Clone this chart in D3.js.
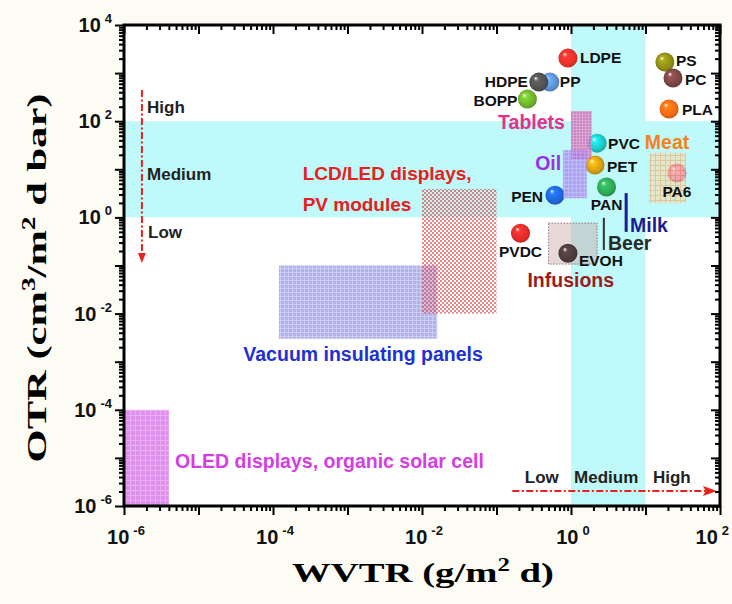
<!DOCTYPE html>
<html>
<head>
<meta charset="utf-8">
<script src="https://cdn.jsdelivr.net/npm/d3@7"></script>
<style>
  html, body { margin: 0; padding: 0; background: #fcfcf5; }
  svg { display: block; }
  text { font-family: "Liberation Sans", Arial, sans-serif; font-weight: bold; }
</style>
</head>
<body>
<svg id="chart" width="732" height="604"></svg>
<script>
// polymers (drawn in this order, PP sits behind HDPE)
const polymers = ["LDPE", "PP", "HDPE", "BOPP", "PS", "PC", "PLA", "PVC", "PET", "PAN", "PEN", "PA6", "PVDC", "EVOH"];
const polyWVTR = [0.91, 0.52, 0.37, 0.26, 18.2, 23.4, 20.7, 2.24, 2.1, 3.0, 0.61, 26.4, 0.21, 0.91];
const polyOTR = [2050, 650, 650, 288, 1700, 794, 180, 35, 12.3, 4.3, 2.9, 8.4, 0.47, 0.18];

// application regions
const regions = ["OLED", "Vacuum", "LCD", "Infusions", "Tablets", "Oil", "Meat"];
const regionX0 = [1e-6, 1.2e-4, 0.01, 0.5, 1.0, 0.78, 11.2];
const regionX1 = [4e-6, 0.016, 0.1, 2.24, 1.9, 1.63, 35];
const regionY0 = [1e-6, 0.003, 0.01, 0.107, 16.3, 2.5, 2];
const regionY1 = [1e-4, 0.1, 3.9, 0.76, 163, 25, 22];

// vertical range bars
const bars = ["Milk", "Beer"];
const barX = [5.5, 2.76];
const barY0 = [0.5, 0.21];
const barY1 = [3.2, 0.98];

// medium barrier bands
const otrMedium = [1, 100];
const wvtrMedium = [1, 10];

// annotations
const notes = ["High", "Medium", "Low", "LCD/LED displays,", "PV modules", "Vacuum insulating panels",
  "OLED displays, organic solar cell", "Tablets", "Oil", "Meat", "Milk", "Beer", "Infusions",
  "Low", "Medium", "High"];
const noteX = [2.04e-6, 2.04e-6, 2.1e-6, 2.5e-4, 2.5e-4, 4.0e-5, 4.84e-6, 0.105, 0.33, 9.8, 6.2, 3.14, 0.26, 0.24, 1.1, 12.6];
const noteY = [148, 6.0, 0.37, 6.0, 1.35, 1.03e-3, 6.2e-6, 69, 9.7, 26.5, 0.5, 0.21, 0.036, 3.0e-6, 3.0e-6, 3.0e-6];

// scale arrows
const otrArrowX = [1.74e-6, 1.74e-6];
const otrArrowY = [446, 0.144];
const wvtrArrowX = [0.163, 73];
const wvtrArrowY = [2.05e-6, 2.05e-6];

// tick labels (exponents of 10)
const xTickExp = [-6, -4, -2, 0, 2];
const yTickExp = [-6, -4, -2, 0, 2, 4];

// ---- styles ----
const ballColor = {
  LDPE: "#e8302a", PP: "#5b90d4", HDPE: "#505050", BOPP: "#6cb02c", PS: "#8c8c14", PC: "#7a4444",
  PLA: "#f26a12", PVC: "#1ec4c4", PET: "#d49c12", PAN: "#2ea454", PEN: "#1e64d8", PA6: "#c8509a",
  PVDC: "#e22a2a", EVOH: "#4c3a3a"
};
const labelPlace = {
  LDPE: [12, 5, "start"], PP: [10, 5, "start"], HDPE: [-11, 5, "end"], BOPP: [-10, 7, "end"],
  PS: [11, 4, "start"], PC: [12, 7, "start"], PLA: [13, 6, "start"], PVC: [11, 6, "start"],
  PET: [12, 7, "start"], PAN: [0, 23, "middle"], PEN: [-12, 7, "end"], PA6: [0, 24, "middle"],
  PVDC: [0, 24, "middle"], EVOH: [11, 13, "start"]
};
const noteColor = ["#222", "#222", "#222", "#e8201c", "#e8201c", "#2030d8", "#d43ee4", "#e6308c",
  "#9a2ee6", "#f5821e", "#1c1c96", "#2a2a2a", "#9c1c1c", "#222", "#222", "#222"];
const noteSize = [17, 17, 17, 19, 19, 19.5, 19.5, 19.5, 19.5, 19.5, 19.5, 19.5, 19.5, 17, 17, 17];

const svg = d3.select("#chart");
const x = d3.scaleLog().domain([1e-6, 1e2]).range([124, 720]);
const y = d3.scaleLog().domain([1e-6, 1e4]).range([506, 25]);
const [xl, xr] = x.range();
const [yb, yt] = y.range();

const defs = svg.append("defs");

// balls
polymers.forEach((p, i) => {
  const c = d3.color(ballColor[p]);
  const g = defs.append("radialGradient").attr("id", "ball" + i)
    .attr("cx", "50%").attr("cy", "50%").attr("r", "55%").attr("fx", "32%").attr("fy", "28%");
  g.append("stop").attr("offset", "0%").attr("stop-color", "#ffffff");
  g.append("stop").attr("offset", "22%").attr("stop-color", c.brighter(0.6));
  g.append("stop").attr("offset", "75%").attr("stop-color", c);
  g.append("stop").attr("offset", "100%").attr("stop-color", c.darker(0.7));
});

// fill patterns
function gridPattern(id, size, bg, line, lw) {
  const p = defs.append("pattern").attr("id", id).attr("patternUnits", "userSpaceOnUse")
    .attr("width", size).attr("height", size);
  p.append("rect").attr("width", size).attr("height", size).attr("fill", bg);
  p.append("path").attr("d", `M0,0.5H${size}M0.5,0V${size}`).attr("stroke", line).attr("stroke-width", lw);
}
gridPattern("pOLED", 5, "#de90ec", "#e9aef3", 1);
gridPattern("pVacuum", 4, "#aaaae8", "#c8c8f2", 1);
gridPattern("pTablets", 3, "#d062b0", "#e090c8", 1);
gridPattern("pOil", 4, "#a47cf0", "#bca0f4", 1);
gridPattern("pMeat", 5, "#f8dcb0", "#eeaa66", 1);
const chk = defs.append("pattern").attr("id", "pLCD").attr("patternUnits", "userSpaceOnUse")
  .attr("width", 4).attr("height", 4);
chk.append("rect").attr("width", 2).attr("height", 2).attr("fill", "#e05656");
chk.append("rect").attr("x", 2).attr("y", 2).attr("width", 2).attr("height", 2).attr("fill", "#e05656");

const regionFill = {
  OLED: "url(#pOLED)", Vacuum: "url(#pVacuum)", LCD: "url(#pLCD)", Infusions: "#c9a6a6",
  Tablets: "url(#pTablets)", Oil: "url(#pOil)", Meat: "url(#pMeat)"
};
const regionOpacity = { OLED: 1, Vacuum: 0.9, LCD: 0.72, Infusions: 0.45, Tablets: 0.78, Oil: 0.7, Meat: 0.62 };

// markers
defs.append("marker").attr("id", "arrowDown").attr("markerUnits", "userSpaceOnUse")
  .attr("viewBox", "0 0 10 10").attr("refX", 5).attr("refY", 5)
  .attr("markerWidth", 10).attr("markerHeight", 10).attr("orient", "auto")
  .append("path").attr("d", "M0,1 L10,5 L0,9 Z").attr("fill", "#e8201c");
defs.append("marker").attr("id", "arrowRight").attr("markerUnits", "userSpaceOnUse")
  .attr("viewBox", "0 0 14 10").attr("refX", 7).attr("refY", 5)
  .attr("markerWidth", 14).attr("markerHeight", 10).attr("orient", "auto")
  .append("path").attr("d", "M0,0 L14,5 L0,10 L3,5 Z").attr("fill", "#e8201c");

// plot background and medium bands
svg.append("rect").attr("x", xl).attr("y", yt).attr("width", xr - xl).attr("height", yb - yt).attr("fill", "#ffffff");
svg.append("rect").attr("x", xl).attr("y", y(otrMedium[1])).attr("width", xr - xl)
  .attr("height", y(otrMedium[0]) - y(otrMedium[1])).attr("fill", "#bff9f9");
svg.append("rect").attr("x", x(wvtrMedium[0])).attr("y", yt).attr("width", x(wvtrMedium[1]) - x(wvtrMedium[0]))
  .attr("height", yb - yt).attr("fill", "#bff9f9");

// regions behind balls
const behind = ["OLED", "Vacuum", "LCD", "Infusions"];
const front = ["Tablets", "Oil", "Meat"];
function drawRegions(list) {
  regions.forEach((r, i) => {
    if (!list.includes(r)) return;
    const rect = svg.append("rect")
      .attr("x", x(regionX0[i])).attr("y", y(regionY1[i]))
      .attr("width", x(regionX1[i]) - x(regionX0[i])).attr("height", y(regionY0[i]) - y(regionY1[i]))
      .attr("fill", regionFill[r]).attr("fill-opacity", regionOpacity[r]);
    if (r === "Infusions") rect.attr("stroke", "#8a7a7a").attr("stroke-width", 1).attr("stroke-dasharray", "1.5,1.5");
  });
}
drawRegions(behind);

// balls
polymers.forEach((p, i) => {
  svg.append("circle").attr("cx", x(polyWVTR[i])).attr("cy", y(polyOTR[i])).attr("r", 9.5)
    .attr("fill", `url(#ball${i})`);
});
drawRegions(front);

// polymer labels
polymers.forEach((p, i) => {
  const [dx, dy, anchor] = labelPlace[p];
  svg.append("text").attr("x", x(polyWVTR[i]) + dx).attr("y", y(polyOTR[i]) + dy)
    .attr("text-anchor", anchor).attr("font-size", 15.5).attr("fill", "#111").text(p);
});

// milk / beer bars
bars.forEach((b, i) => {
  svg.append("line").attr("x1", x(barX[i])).attr("x2", x(barX[i]))
    .attr("y1", y(barY0[i])).attr("y2", y(barY1[i]))
    .attr("stroke", b === "Milk" ? "#1c1c96" : "#333").attr("stroke-width", b === "Milk" ? 3 : 2);
});

// arrows
svg.append("line").attr("x1", x(otrArrowX[0])).attr("y1", y(otrArrowY[0]))
  .attr("x2", x(otrArrowX[1])).attr("y2", y(otrArrowY[1]))
  .attr("stroke", "#e8201c").attr("stroke-width", 2).attr("stroke-dasharray", "7,2.5,2,2.5")
  .attr("marker-end", "url(#arrowDown)");
svg.append("line").attr("x1", x(wvtrArrowX[0])).attr("y1", y(wvtrArrowY[0]))
  .attr("x2", x(wvtrArrowX[1])).attr("y2", y(wvtrArrowY[1]))
  .attr("stroke", "#e8201c").attr("stroke-width", 2).attr("stroke-dasharray", "7,2.5,2,2.5")
  .attr("marker-end", "url(#arrowRight)");

// annotations
notes.forEach((t, i) => {
  svg.append("text").attr("x", x(noteX[i])).attr("y", y(noteY[i]))
    .attr("font-size", noteSize[i]).attr("fill", noteColor[i]).text(t);
});

// axes
const decades = d3.range(-6, 5);
const xMajor = decades.filter(d => d <= 2).map(d => Math.pow(10, d));
const yMajor = decades.map(d => Math.pow(10, d));
const minorOf = (majors) => majors.slice(0, -1).flatMap(m => d3.range(2, 10).map(k => k * m));
const xMinor = minorOf(xMajor);
const yMinor = minorOf(yMajor);

function addAxis(axisFn, scale, vals, size, transform) {
  const g = svg.append("g").attr("transform", transform)
    .call(axisFn(scale).tickValues(vals).tickSize(size).tickFormat(""));
  g.select(".domain").remove();
  g.selectAll("line").attr("stroke", "#000").attr("stroke-width", 2);
}
addAxis(d3.axisBottom, x, xMajor, 9, `translate(0,${yb})`);
addAxis(d3.axisBottom, x, xMinor, 5, `translate(0,${yb})`);
addAxis(d3.axisBottom, x, xMajor, 9, `translate(0,${yt})`);
addAxis(d3.axisBottom, x, xMinor, 5, `translate(0,${yt})`);
addAxis(d3.axisLeft, y, yMajor, 9, `translate(${xl},0)`);
addAxis(d3.axisLeft, y, yMinor, 5, `translate(${xl},0)`);
addAxis(d3.axisLeft, y, yMajor, 9, `translate(${xr},0)`);
addAxis(d3.axisLeft, y, yMinor, 5, `translate(${xr},0)`);

svg.append("rect").attr("x", xl).attr("y", yt).attr("width", xr - xl).attr("height", yb - yt)
  .attr("fill", "none").attr("stroke", "#000").attr("stroke-width", 3);

// tick labels
function powLabel(sel, e) {
  sel.append("tspan").text("10");
  sel.append("tspan").attr("dx", 4).attr("dy", -9).attr("font-size", 13).text(String(e));
}
xTickExp.forEach(e => {
  const t = svg.append("text").attr("x", x(Math.pow(10, e)) + 2).attr("y", yb + 38)
    .attr("text-anchor", "middle").attr("font-size", 20).attr("fill", "#111").call(powLabel, e);
  // keep the last label inside the page
  const bb = t.node().getBBox();
  const over = bb.x + bb.width - 729;
  if (over > 0) t.attr("x", +t.attr("x") - over);
});
yTickExp.forEach(e => {
  svg.append("text").attr("x", xl - 12).attr("y", y(Math.pow(10, e)) + 7)
    .attr("text-anchor", "end").attr("font-size", 20).attr("fill", "#111").call(powLabel, e);
});

// axis titles (serif, stretched wide like the original)
function title(cx, cy, rot, target, parts) {
  const g = svg.append("g");
  const t = g.append("text").attr("text-anchor", "middle")
    .style("font-family", "'Liberation Serif', 'Times New Roman', serif").attr("font-size", 28).attr("fill", "#000");
  parts.forEach(([s, sup], i) => {
    const ts = t.append("tspan").text(s);
    if (sup) ts.attr("font-size", 18).attr("dy", -11);
    else if (i > 0 && parts[i - 1][1]) ts.attr("dy", 11);
  });
  const w = t.node().getComputedTextLength();
  g.attr("transform", `translate(${cx},${cy}) rotate(${rot}) scale(${target / w},1)`);
}
title((xl + xr) / 2 + 1, 582, 0, 262, [["WVTR (g/m", false], ["2", true], [" d)", false]]);
title(46, 278, -90, 369, [["OTR (cm", false], ["3", true], ["/m", false], ["2", true], [" d bar)", false]]);
</script>
</body>
</html>
